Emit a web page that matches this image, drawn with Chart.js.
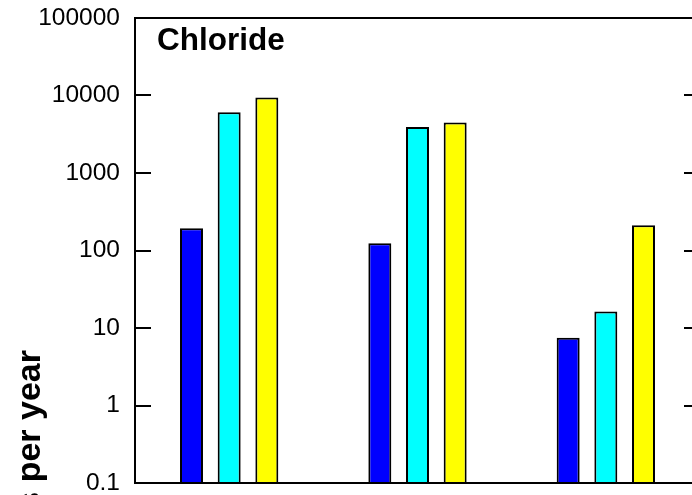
<!DOCTYPE html>
<html>
<head>
<meta charset="utf-8">
<script src="https://cdn.jsdelivr.net/npm/chart.js@4"></script>
<style>
  html, body { margin: 0; padding: 0; background: #fff; overflow: hidden; width: 692px; height: 495px; }
  canvas { display: block; }
</style>
</head>
<body>
<canvas id="c" width="720" height="495" style="width:720px;height:495px"></canvas>
<script>
// ---- data ----
const categories = ['Site A', 'Site B', 'Site C'];
const seriesBlue   = [194, 124, 7.5];
const seriesCyan   = [6090, 3930, 16.3];
const seriesYellow = [9430, 4480, 212];
const tickValues   = [0.1, 1, 10, 100, 1000, 10000, 100000];
const chartTitle   = 'Chloride';
const yTitle       = 's per year';

const FONT = "'Liberation Sans', Arial, sans-serif";

function setTicks(scale) {
  scale.ticks = tickValues.map(v => ({ value: v }));
}

// inward tick marks on the left axis, placed by the y scale
const innerTicksPlugin = {
  id: 'innerTicks',
  afterDatasetsDraw(chart) {
    const ctx = chart.ctx;
    const scale = chart.scales.y;
    const left = chart.chartArea.left;
    ctx.save();
    ctx.strokeStyle = '#000';
    ctx.lineWidth = 2;
    scale.ticks.forEach(t => {
      const y = Math.round(scale.getPixelForValue(t.value));
      ctx.beginPath();
      ctx.moveTo(left, y);
      ctx.lineTo(left + 16, y);
      ctx.stroke();
    });
    ctx.restore();
  }
};

const textPlugin = {
  id: 'textPlugin',
  afterDraw(chart) {
    const ctx = chart.ctx;
    const area = chart.chartArea;
    ctx.save();
    ctx.fillStyle = '#000';
    ctx.font = "bold 31.5px " + FONT;
    ctx.textAlign = 'left';
    ctx.textBaseline = 'alphabetic';
    ctx.fillText(chartTitle, area.left + 22, area.top + 31.5);
    ctx.restore();

    ctx.save();
    ctx.fillStyle = '#000';
    ctx.font = "bold 34px " + FONT;
    ctx.translate(40, 350);
    ctx.rotate(-Math.PI / 2);
    ctx.textAlign = 'right';
    ctx.textBaseline = 'alphabetic';
    ctx.fillText(yTitle, 0, 0);
    ctx.restore();
  }
};

const barCommon = { borderColor: '#000', borderWidth: 2 };

new Chart(document.getElementById('c'), {
  type: 'bar',
  data: {
    labels: categories,
    datasets: [
      Object.assign({ label: 'Series 1', data: seriesBlue,   backgroundColor: '#0000FF' }, barCommon),
      Object.assign({ label: 'Series 2', data: seriesCyan,   backgroundColor: '#00FFFF' }, barCommon),
      Object.assign({ label: 'Series 3', data: seriesYellow, backgroundColor: '#FFFF00' }, barCommon)
    ]
  },
  options: {
    responsive: false,
    devicePixelRatio: 1,
    animation: false,
    categoryPercentage: 0.6,
    barPercentage: 0.61,
    layout: { padding: { left: 0, top: 18, right: 20, bottom: 12 } },
    plugins: { legend: { display: false }, tooltip: { enabled: false }, title: { display: false } },
    scales: {
      x: {
        type: 'category',
        position: 'bottom',
        grid: { display: false },
        ticks: { display: false },
        border: { display: true, color: '#000', width: 2, z: 1 },
        afterFit(s) { s.height = 0; s.paddingLeft = 0; s.paddingRight = 0; }
      },
      xTop: {
        type: 'category',
        position: 'top',
        labels: categories,
        grid: { display: false },
        ticks: { display: false },
        border: { display: true, color: '#000', width: 2, z: 1 },
        afterFit(s) { s.height = 0; s.paddingLeft = 0; s.paddingRight = 0; }
      },
      y: {
        type: 'logarithmic',
        position: 'left',
        min: 0.1,
        max: 100000,
        afterBuildTicks: setTicks,
        grid: { drawOnChartArea: false, drawTicks: false, color: '#000', lineWidth: 2 },
        border: { display: true, color: '#000', width: 2, z: 1 },
        ticks: {
          padding: 15,
          color: '#000',
          font: { family: FONT, size: 24.5 },
          callback: v => String(v)
        },
        afterFit(s) { s.width = 135; s.paddingTop = 0; s.paddingBottom = 0; }
      },
      y2: {
        type: 'logarithmic',
        position: 'right',
        min: 0.1,
        max: 100000,
        afterBuildTicks: setTicks,
        grid: { drawOnChartArea: false, drawTicks: true, tickLength: -16, color: '#000', lineWidth: 2 },
        border: { display: true, color: '#000', width: 2, z: 1 },
        ticks: { display: false },
        afterFit(s) { s.width = 0; s.paddingTop = 0; s.paddingBottom = 0; }
      }
    }
  },
  plugins: [innerTicksPlugin, textPlugin]
});
</script>
</body>
</html>
